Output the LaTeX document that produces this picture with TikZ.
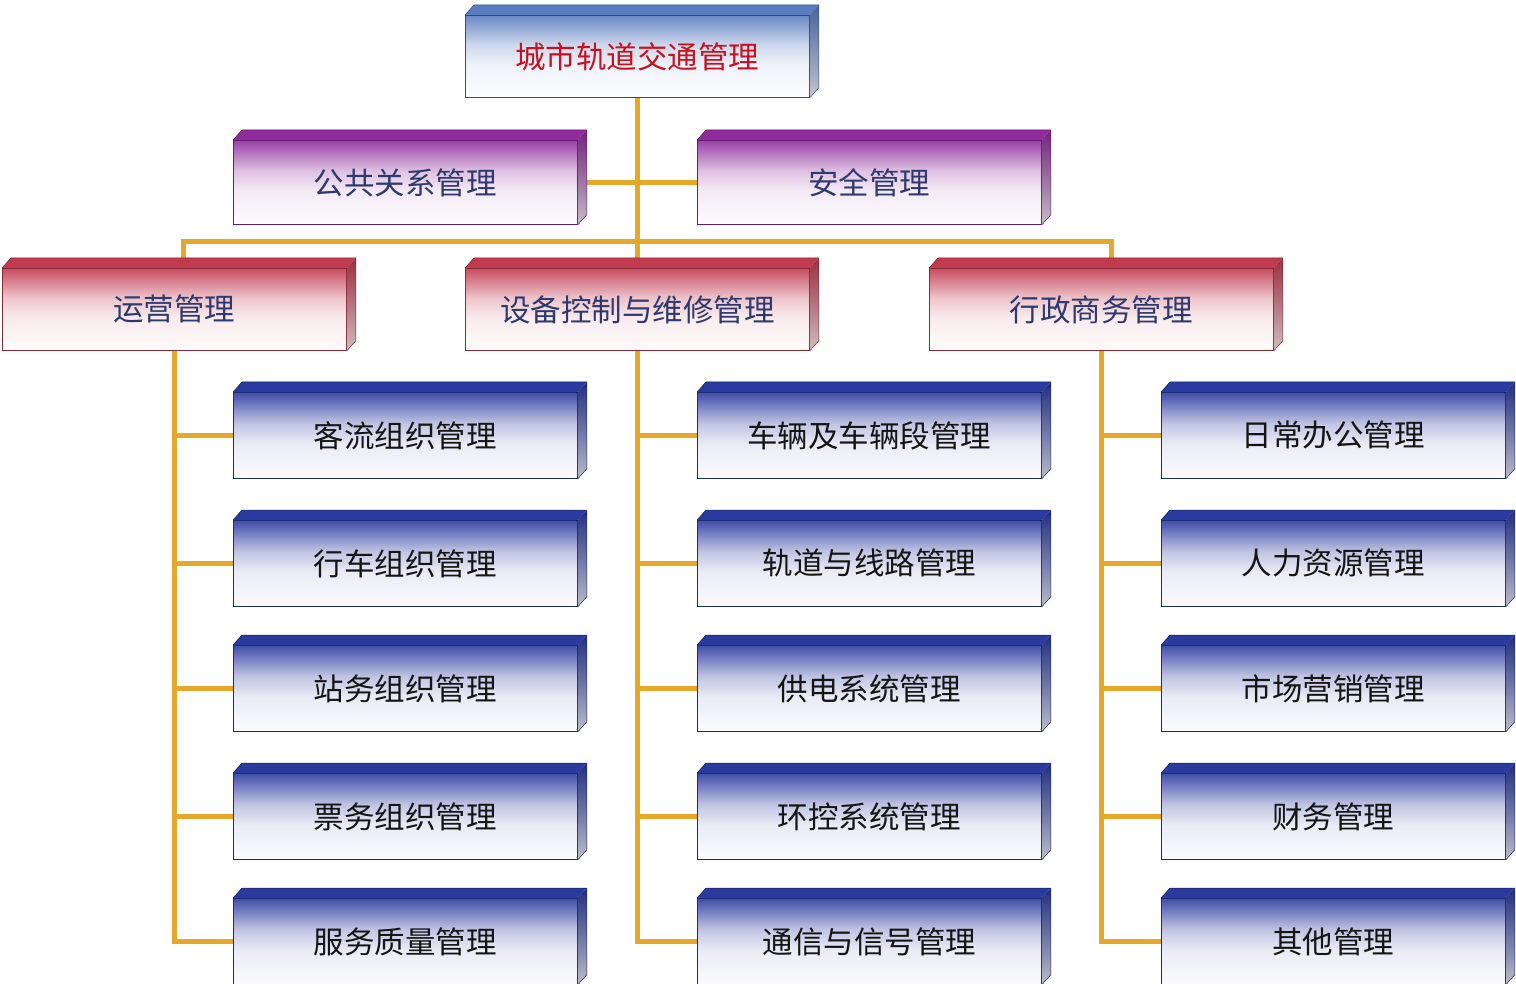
\documentclass[tikz,border=0pt]{standalone}
\usepackage{fontspec}
\usetikzlibrary{backgrounds}
\newfontfamily\cjk{Noto Sans CJK SC}
\definecolor{tbC}{HTML}{5A7CC0}
\definecolor{puC}{HTML}{8E2C9C}
\definecolor{reC}{HTML}{C23A50}
\definecolor{blC}{HTML}{2B3A9E}
\definecolor{lineC}{HTML}{E6A82A}
\definecolor{titleT}{HTML}{C8101E}
\definecolor{midT}{HTML}{2E3A6E}
\definecolor{leafT}{HTML}{151515}
\newcommand\mkshade[2]{\pgfdeclareverticalshading{#1}{100bp}{color(0bp)=(#2!2!white); color(25bp)=(#2!2!white); color(45bp)=(#2!10!white); color(57bp)=(#2!30!white); color(69bp)=(#2!70!white); color(75bp)=(#2!90!white); color(100bp)=(#2!90!white)}}
\mkshade{tbS}{tbC}
\mkshade{puS}{puC}
\mkshade{reS}{reC}
\mkshade{blS}{blC}
\tikzset{
  conn/.style={draw=lineC, line width=5pt},
  boxbase/.style={inner sep=0pt, anchor=north west, minimum width=344pt, font=\cjk\fontsize{30.5}{36}\selectfont},
  titlebox/.style={boxbase, shading=tbS, draw=tbC!60!black, line width=0.8pt, minimum height=82pt, text=titleT},
  purplebox/.style={boxbase, shading=puS, draw=puC!70!black, line width=0.8pt, minimum height=84pt, text=midT},
  redbox/.style={boxbase, shading=reS, draw=reC!70!black, line width=0.8pt, minimum height=82pt, text=midT},
  leafbox/.style={boxbase, shading=blS, draw=blC!70!black, line width=0.8pt, minimum height=86pt, text=leafT},
}
\newcommand\sides[2]{%
  \fill[#2] (#1.north west) -- ++(9,-10) -- ([shift={(9,-10)}]#1.north east) -- (#1.north east) -- cycle;
  \shade[top color=#2!80!black, bottom color=#2!30!gray!45!white] (#1.north east) -- ++(9,-10) -- ([shift={(9,-10)}]#1.south east) -- (#1.south east) -- cycle;
  \draw[#2!60!black, line width=0.5pt] (#1.north west) -- ++(9,-10) -- ([shift={(9,-10)}]#1.north east) -- ([shift={(9,-10)}]#1.south east) -- (#1.south east);
}
\begin{document}
\begin{tikzpicture}[x=1pt,y=-1pt]
\useasboundingbox (0,0) rectangle (1516,984);
% nodes
\node[titlebox] (title) at (465,15) {城市轨道交通管理};
\node[purplebox] (pr) at (233,140) {公共关系管理};
\node[purplebox] (sa) at (697,140) {安全管理};
\node[redbox] (yy) at (2,268) {运营管理};
\node[redbox] (sb) at (465,268) {设备控制与维修管理};
\node[redbox] (xz) at (929,268) {行政商务管理};
\foreach \nm/\x/\y/\t in {
  a1/233/392/客流组织管理, a2/233/520/行车组织管理, a3/233/645/站务组织管理, a4/233/773/票务组织管理, a5/233/898/服务质量管理,
  b1/697/392/车辆及车辆段管理, b2/697/520/轨道与线路管理, b3/697/645/供电系统管理, b4/697/773/环控系统管理, b5/697/898/通信与信号管理,
  c1/1161/392/日常办公管理, c2/1161/520/人力资源管理, c3/1161/645/市场营销管理, c4/1161/773/财务管理, c5/1161/898/其他管理}
  {\node[leafbox] (\nm) at (\x,\y) {\t};}
% 3D sides
\sides{title}{tbC}
\sides{pr}{puC}
\sides{sa}{puC}
\sides{yy}{reC}
\sides{sb}{reC}
\sides{xz}{reC}
\foreach \nm in {a1,a2,a3,a4,a5,b1,b2,b3,b4,b5,c1,c2,c3,c4,c5}{\sides{\nm}{blC}}
% connectors behind the boxes
\begin{scope}[on background layer]
\fill[white] (0,0) rectangle (1516,984);
\draw[conn] (title.south) -- (sb.north);
\draw[conn] (pr.east) -- (sa.west);
\draw[conn] ([xshift=9]yy.north) -- ++(0,-26) -| ([xshift=10]xz.north);
\draw[conn] (yy.south) |- (a5.west);
\foreach \k in {1,2,3,4}{\draw[conn] (yy.south |- a\k.west) -- (a\k.west);}
\draw[conn] (sb.south) |- (b5.west);
\foreach \k in {1,2,3,4}{\draw[conn] (sb.south |- b\k.west) -- (b\k.west);}
\draw[conn] (xz.south) |- (c5.west);
\foreach \k in {1,2,3,4}{\draw[conn] (xz.south |- c\k.west) -- (c\k.west);}
\end{scope}
\end{tikzpicture}
\end{document}
